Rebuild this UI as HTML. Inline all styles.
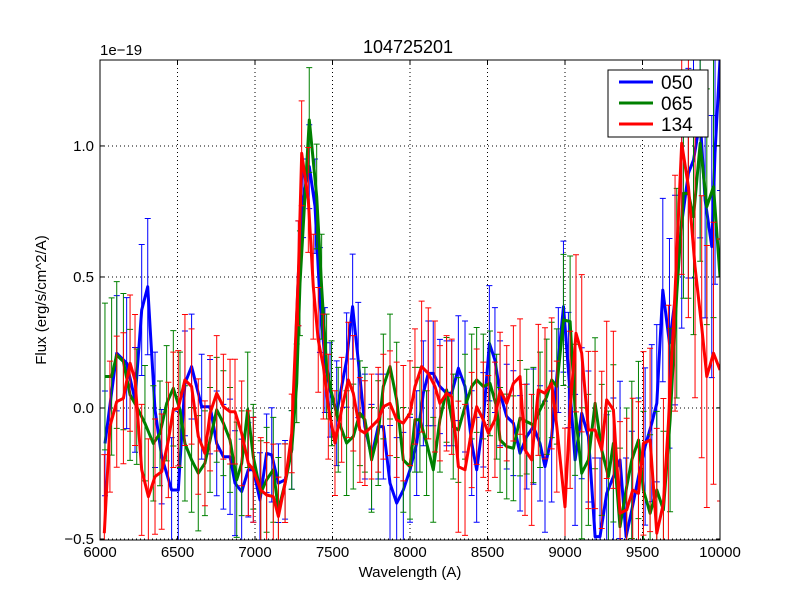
<!DOCTYPE html>
<html><head><meta charset="utf-8"><title>104725201</title>
<style>
html,body{margin:0;padding:0;width:800px;height:600px;overflow:hidden;background:#fff;}
svg{display:block;font-family:"Liberation Sans","DejaVu Sans",sans-serif;}
</style></head>
<body>
<svg id="chart" width="800" height="600" viewBox="0 0 800 600">
<rect x="0" y="0" width="800" height="600" fill="#fff"/>
<text x="408" y="53" font-size="18" text-anchor="middle">104725201</text>
<text x="100" y="55" font-size="15">1e−19</text>
<text x="410" y="577" font-size="15" text-anchor="middle">Wavelength (A)</text>
<text x="46" y="300" font-size="15" text-anchor="middle" transform="rotate(-90 46 300)">Flux (erg/s/cm^2/A)</text>
<defs><clipPath id="plotclip"><rect x="100" y="60" width="620" height="480"/></clipPath></defs>
<g id="grid"></g>
<g id="series" clip-path="url(#plotclip)"></g>
<rect x="100" y="60" width="620" height="480" fill="none" stroke="#000" stroke-width="1"/>
<g id="ticks"></g>
<g>
<rect x="608" y="70" width="100" height="67" fill="#fff" stroke="#000" stroke-width="1"/>
<line x1="619" y1="82" x2="653" y2="82" stroke="#0000ff" stroke-width="3"/>
<text x="661" y="89" font-size="19">050</text>
<line x1="619" y1="103" x2="653" y2="103" stroke="#008000" stroke-width="3"/>
<text x="661" y="110" font-size="19">065</text>
<line x1="619" y1="124" x2="653" y2="124" stroke="#ff0000" stroke-width="3"/>
<text x="661" y="131" font-size="19">134</text>
</g>
</svg>
<script>
const xTicks = [6000,6500,7000,7500,8000,8500,9000,9500,10000];
const xTickLabels = ["6000","6500","7000","7500","8000","8500","9000","9500","10000"];
const yTicks = [-0.5,0,0.5,1.0];
const yTickLabels = ["−0.5","0.0","0.5","1.0"];

const wl050 = [6032,6108,6172,6226,6269,6308,6355,6398,6462,6505,6548,6591,6656,6710,6753,6796,6839,6871,6914,6957,6989,7032,7075,7108,7151,7194,7237,7280,7310,
7350,7387,7419,7451,7484,7527,7591,7630,7666,7709,7752,7795,7828,7871,7914,7957,8000,8043,8086,8118,8150,8193,8236,8269,8312,8355,8398,8430,8473,8512,8548,
8581,8624,8667,8710,8753,8796,8839,8871,8914,8957,8990,9022,9065,9108,9151,9194,9226,9269,9312,9355,9394,9431,9474,9517,9560,9592,9631,9674,9710,9753,9796,9829,9872,9904,9947,9968,10000];
const flux050 = [-0.135,0.209,0.171,0.031,0.374,0.463,-0.007,-0.186,-0.313,-0.313,0.094,0.158,0.005,0.005,-0.135,-0.186,-0.186,-0.287,-0.319,-0.236,-0.236,-0.351,-0.173,-0.179,-0.287,-0.274,-0.160,0.514,0.80,
0.921,0.77,0.412,0.183,0.069,-0.02,0.183,0.387,0.183,-0.071,-0.186,-0.071,-0.071,-0.287,-0.363,-0.313,-0.236,-0.134,0.056,0.132,0.132,0.082,0.056,0.056,0.152,0.082,-0.134,-0.236,-0.045,0.247,0.183,
0.056,-0.033,-0.058,-0.173,-0.109,-0.071,-0.135,-0.224,-0.109,0.183,0.387,0.145,-0.198,-0.020,-0.109,-0.491,-0.491,-0.326,-0.262,-0.198,-0.491,-0.389,-0.262,-0.147,-0.058,0.018,0.45,0.247,0.412,0.705,0.896,0.946,1.099,0.794,0.616,0.972,1.33];
const err050 = [0.2,0.22,0.25,0.2,0.25,0.26,0.22,0.18,0.2,0.3,0.2,0.2,0.2,0.18,0.2,0.2,0.22,0.2,0.2,0.18,0.2,0.18,0.15,0.18,0.15,0.15,0.15,0.2,0.15,
0.16,0.18,0.2,0.2,0.18,0.2,0.18,0.2,0.22,0.2,0.2,0.2,0.2,0.22,0.25,0.22,0.2,0.2,0.2,0.2,0.2,0.18,0.2,0.2,0.2,0.25,0.2,0.2,0.18,0.22,0.2,
0.2,0.2,0.2,0.22,0.2,0.22,0.22,0.25,0.25,0.2,0.25,0.22,0.25,0.25,0.25,0.3,0.3,0.3,0.3,0.3,0.3,0.3,0.3,0.3,0.3,0.3,0.35,0.4,0.4,0.4,0.4,0.45,0.45,0.45,0.5,0.5,0.5];

const wl065 = [6032,6075,6108,6151,6194,6237,6290,6344,6387,6430,6473,6516,6548,6591,6634,6677,6710,6753,6796,6839,6882,6914,6953,6989,7037,7075,7118,7151,7194,7237,7269,7290,
7350,7398,7430,7462,7494,7537,7591,7634,7677,7709,7752,7795,7828,7871,7914,7957,8000,8032,8064,8107,8150,8193,8236,8279,8312,8355,8398,8430,8473,8516,8559,
8581,8624,8667,8710,8753,8796,8839,8882,8914,8947,8990,9033,9065,9108,9151,9194,9237,9280,9312,9355,9398,9431,9474,9506,9549,9592,9635,9678,9721,9764,9796,9829,9872,9915,9958,10000];
const flux065 = [0.120,0.120,0.202,0.177,0.050,0.005,-0.058,-0.135,-0.097,0.018,0.075,-0.007,-0.135,-0.198,-0.249,-0.211,-0.122,-0.007,-0.058,-0.122,-0.274,-0.211,-0.007,-0.186,-0.325,-0.274,-0.236,-0.389,-0.287,-0.160,0.094,0.476,
1.099,0.807,0.463,0.158,0.056,-0.045,-0.134,-0.109,-0.020,-0.045,-0.198,-0.096,0.082,0.158,0.031,-0.198,-0.224,-0.045,-0.045,-0.134,-0.236,-0.045,0.069,-0.071,-0.084,0.005,0.082,0.107,0.082,0.094,0.005,
-0.122,-0.147,-0.154,-0.039,-0.052,-0.065,-0.007,0.043,0.107,0.082,0.336,0.33,-0.007,-0.249,-0.198,0.018,-0.16,-0.262,-0.135,-0.453,-0.3,-0.198,-0.122,-0.313,-0.402,-0.313,-0.389,-0.046,0.438,0.819,0.819,0.73,1.01,0.768,0.845,0.501];
const err065 = [0.28,0.3,0.28,0.26,0.25,0.22,0.22,0.22,0.2,0.22,0.22,0.22,0.22,0.2,0.22,0.2,0.2,0.2,0.2,0.2,0.22,0.2,0.22,0.2,0.2,0.2,0.2,0.2,0.15,0.15,0.15,0.2,
0.2,0.2,0.2,0.2,0.2,0.2,0.2,0.2,0.2,0.2,0.2,0.2,0.2,0.2,0.22,0.2,0.2,0.2,0.2,0.2,0.2,0.2,0.2,0.2,0.2,0.2,0.2,0.2,0.2,0.2,0.2,
0.2,0.2,0.2,0.22,0.2,0.22,0.22,0.22,0.22,0.22,0.25,0.25,0.25,0.25,0.25,0.25,0.25,0.25,0.3,0.3,0.3,0.3,0.3,0.3,0.3,0.3,0.3,0.35,0.4,0.4,0.4,0.45,0.45,0.45,0.5,0.5];

const wl134 = [6028,6064,6108,6151,6194,6226,6269,6312,6355,6398,6441,6473,6505,6548,6591,6634,6677,6710,6753,6796,6839,6871,6914,6957,6989,7037,7075,7118,7151,7194,7237,7280,
7301,7344,7376,7408,7441,7473,7516,7559,7602,7634,7677,7709,7752,7795,7828,7871,7914,7957,8000,8032,8075,8118,8161,8193,8236,8269,8312,8355,8398,8430,8473,8505,8548,
8581,8624,8667,8710,8742,8785,8828,8871,8914,8947,9000,9033,9071,9108,9151,9194,9237,9269,9312,9355,9398,9437,9474,9506,9549,9592,9635,9667,9710,9753,9796,9839,9882,9915,9958,10000];
const flux134 = [-0.478,-0.071,0.024,0.037,0.171,0.107,-0.236,-0.338,-0.262,-0.243,-0.122,-0.007,-0.001,0.107,0.082,-0.109,-0.173,-0.020,0.056,0.005,-0.014,-0.014,-0.097,-0.211,-0.236,-0.313,-0.332,-0.338,-0.414,-0.287,-0.097,0.514,
0.972,0.794,0.463,0.26,0.158,0.005,-0.134,-0.007,0.107,0.056,-0.084,-0.096,-0.071,-0.045,0.005,0.018,-0.045,-0.058,-0.020,0.082,0.158,0.132,0.082,0.018,0.056,0.043,-0.224,-0.236,-0.084,0.005,-0.045,-0.096,-0.045,
0.069,0.018,0.094,0.12,-0.16,-0.198,0.069,0.056,0.094,-0.071,-0.377,-0.007,0.285,0.209,-0.084,-0.084,-0.16,0.031,-0.007,-0.402,-0.389,-0.313,-0.326,-0.135,-0.122,-0.478,-0.364,-0.058,0.438,1.01,0.845,0.539,0.31,0.12,0.209,0.145];
const err134 = [0.3,0.25,0.25,0.25,0.26,0.25,0.25,0.22,0.22,0.22,0.22,0.22,0.22,0.25,0.22,0.22,0.2,0.22,0.22,0.2,0.2,0.2,0.2,0.2,0.2,0.2,0.2,0.2,0.15,0.15,0.15,0.2,
0.2,0.2,0.2,0.2,0.2,0.2,0.2,0.2,0.22,0.22,0.2,0.2,0.2,0.2,0.2,0.2,0.22,0.22,0.2,0.22,0.25,0.25,0.25,0.22,0.22,0.22,0.25,0.25,0.22,0.22,0.22,0.22,0.22,
0.22,0.22,0.22,0.22,0.25,0.25,0.25,0.25,0.25,0.25,0.3,0.3,0.3,0.3,0.3,0.3,0.3,0.3,0.3,0.35,0.35,0.35,0.35,0.35,0.35,0.4,0.4,0.45,0.45,0.5,0.5,0.5,0.5,0.5,0.5,0.5];

const NS = "http://www.w3.org/2000/svg";
const X0 = 100, X1 = 720, Y0 = 60, Y1 = 540;
const xMin = 6000, xMax = 10000, yMin = -0.5038, yMax = 1.328;
function xs(w){ return X0 + (w - xMin) / (xMax - xMin) * (X1 - X0); }
function ys(v){ return Y1 - (v - yMin) / (yMax - yMin) * (Y1 - Y0); }
function mk(tag, attrs, parent){ const e = document.createElementNS(NS, tag); for (const k in attrs) e.setAttribute(k, attrs[k]); parent.appendChild(e); return e; }

const grid = document.getElementById('grid');
const ticks = document.getElementById('ticks');
xTicks.forEach((t, i) => {
  const x = xs(t);
  const g = mk('line', {x1:x, y1:Y0, x2:x, y2:Y1, stroke:'#000', 'stroke-width':1, 'stroke-dasharray':'1,3'}, grid);
  
  
  const a = mk('line', {x1:x, y1:Y1, x2:x, y2:Y1-4, stroke:'#000'}, ticks);
  
  
  const b = mk('line', {x1:x, y1:Y0, x2:x, y2:Y0+4, stroke:'#000'}, ticks);
  
  
  const tx = mk('text', {x:x, y:557, 'font-size':15, 'text-anchor':'middle'}, ticks);
  tx.textContent = xTickLabels[i];
  
  
});
yTicks.forEach((t, i) => {
  const y = ys(t);
  const g = mk('line', {x1:X0, y1:y, x2:X1, y2:y, stroke:'#000', 'stroke-width':1, 'stroke-dasharray':'1,3'}, grid);
  
  
  const a = mk('line', {x1:X0, y1:y, x2:X0+4, y2:y, stroke:'#000'}, ticks);
  
  
  const b = mk('line', {x1:X1, y1:y, x2:X1-4, y2:y, stroke:'#000'}, ticks);
  
  
  const tx = mk('text', {x:94, y:y+5, 'font-size':15, 'text-anchor':'end'}, ticks);
  tx.textContent = yTickLabels[i];
  
  
});

const seriesG = document.getElementById('series');
function drawSeries(name, wl, flux, err, color){
  const g = mk('g', {}, seriesG);
  
  
  wl.forEach((w, i) => {
    const x = xs(w), yt = ys(flux[i] + err[i]), yb = ys(flux[i] - err[i]);
    const e = mk('path', {d:`M${x},${yt}V${yb}M${x-3},${yt}H${x+3}M${x-3},${yb}H${x+3}`, stroke:color, 'stroke-width':1, fill:'none'}, g);
    
    
  });
  const d = wl.map((w, i) => (i ? 'L' : 'M') + xs(w).toFixed(1) + ',' + ys(flux[i]).toFixed(1)).join('');
  const p = mk('path', {d:d, stroke:color, 'stroke-width':3, fill:'none', 'stroke-linejoin':'round'}, g);
  
  
}
drawSeries('050', wl050, flux050, err050, '#0000ff');
drawSeries('065', wl065, flux065, err065, '#008000');
drawSeries('134', wl134, flux134, err134, '#ff0000');
</script>
</body></html>
